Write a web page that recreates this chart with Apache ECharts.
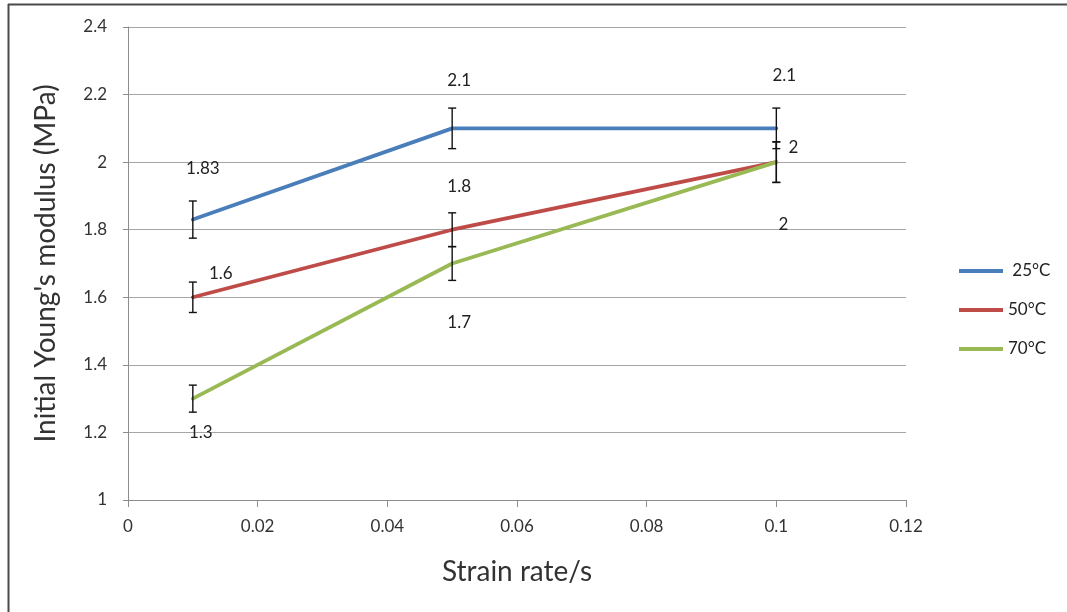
<!DOCTYPE html>
<html>
<head>
<meta charset="utf-8">
<script src="https://cdn.jsdelivr.net/npm/echarts@6/dist/echarts.min.js"></script>
<style>
  html, body { margin: 0; padding: 0; background: #fff; }
  #chart { width: 1067px; height: 612px; }
</style>
</head>
<body>
<div id="chart"></div>
<script>
// Strain rates tested (1/s)
const strainRates = [0.01, 0.05, 0.1];
// Temperature groups
const seriesNames = [' 25\u00b0C', '50\u00b0C', '70\u00b0C'];
// Initial Young's modulus (MPa) per temperature
const modulus25 = [1.83, 2.1, 2.1];
const modulus50 = [1.6, 1.8, 2];
const modulus70 = [1.3, 1.7, 2];
// Error bar half-heights (MPa)
const error25 = [0.055, 0.06, 0.06];
const error50 = [0.045, 0.05, 0.06];
const error70 = [0.04, 0.05, 0.06];

// Presentation settings
const colors = ['#4a7ebb', '#be4b48', '#98b954'];
const labelOffsets = [
  [[10, -51], [7, -48], [8, -53]],
  [[28, -24], [7, -43], [17, -15]],
  [[8, 34], [7, 59], [7, 62]]
];
const FONT = 'Lato, "Open Sans", sans-serif';

const values = [modulus25, modulus50, modulus70];
const errors = [error25, error50, error70];

const lineSeries = values.map((vals, s) => ({
  name: seriesNames[s],
  type: 'line',
  color: colors[s],
  symbol: 'none',
  smooth: false,
  lineStyle: { width: 3.8, color: colors[s], cap: 'round' },
  z: 2,
  data: strainRates.map((x, i) => [x, vals[i]])
}));

// Error bars and value labels
const errorSeries = values.map((vals, s) => ({
  type: 'custom',
  z: 5,
  silent: true,
  encode: { x: 0, y: 1 },
  data: strainRates.map((x, i) => [x, vals[i], errors[s][i]]),
  renderItem: function (params, api) {
    const x = api.value(0), y = api.value(1), e = api.value(2);
    const top = api.coord([x, y + e]);
    const bot = api.coord([x, y - e]);
    const pt = api.coord([x, y]);
    const off = labelOffsets[s][params.dataIndex];
    const cap = 4;
    const st = { stroke: '#111', lineWidth: 1.4 };
    return {
      type: 'group',
      children: [
        { type: 'line', shape: { x1: top[0], y1: top[1], x2: bot[0], y2: bot[1] }, style: st },
        { type: 'line', shape: { x1: top[0] - cap, y1: top[1], x2: top[0] + cap, y2: top[1] }, style: st },
        { type: 'line', shape: { x1: bot[0] - cap, y1: bot[1], x2: bot[0] + cap, y2: bot[1] }, style: st },
        {
          type: 'text',
          x: pt[0] + off[0],
          y: pt[1] + off[1],
          style: {
            text: String(y),
            fill: '#222',
            font: '17px ' + FONT,
            align: 'center',
            verticalAlign: 'middle'
          }
        }
      ]
    };
  }
}));

const chart = echarts.init(document.getElementById('chart'), null, { renderer: 'canvas' });
chart.setOption({
  animation: false,
  backgroundColor: '#fff',
  textStyle: { fontFamily: FONT },
  grid: { left: 128, top: 27, right: 161, bottom: 112, containLabel: false },
  legend: {
    orient: 'vertical',
    left: 954,
    top: 257,
    itemWidth: 44,
    itemHeight: 4,
    itemGap: 21,
    icon: 'rect',
    data: seriesNames,
    textStyle: { fontSize: 17, lineHeight: 18, color: '#222', fontFamily: FONT }
  },
  xAxis: {
    type: 'value',
    min: 0,
    max: 0.12,
    interval: 0.02,
    name: 'Strain rate/s',
    nameLocation: 'middle',
    nameGap: 58,
    nameTextStyle: { fontSize: 28, color: '#333', fontFamily: FONT },
    axisLine: { show: true, onZero: false, lineStyle: { color: '#8c8c8c', width: 1 } },
    axisTick: { show: true, inside: false, length: 7, lineStyle: { color: '#8c8c8c' } },
    axisLabel: { margin: 18, fontSize: 17, color: '#333', fontFamily: FONT },
    splitLine: { show: false }
  },
  yAxis: {
    type: 'value',
    min: 1,
    max: 2.4,
    interval: 0.2,
    name: "Initial Young's modulus (MPa)",
    nameLocation: 'middle',
    nameGap: 68,
    nameTextStyle: { fontSize: 28, color: '#333', fontFamily: FONT },
    axisLine: { show: true, onZero: false, lineStyle: { color: '#8c8c8c', width: 1 } },
    axisTick: { show: true, inside: false, length: 5, lineStyle: { color: '#8c8c8c' } },
    axisLabel: { margin: 21, fontSize: 17, color: '#333', fontFamily: FONT },
    splitLine: { show: true, lineStyle: { color: '#a6a6a6', width: 1 } }
  },
  graphic: [
    { type: 'line', silent: true, shape: { x1: 8, y1: 4.5, x2: 1067, y2: 4.5 }, style: { stroke: '#4a4a4a', lineWidth: 2 } },
    { type: 'line', silent: true, shape: { x1: 8.5, y1: 4, x2: 8.5, y2: 612 }, style: { stroke: '#4a4a4a', lineWidth: 2 } }
  ],
  series: lineSeries.concat(errorSeries)
});
</script>
</body>
</html>
